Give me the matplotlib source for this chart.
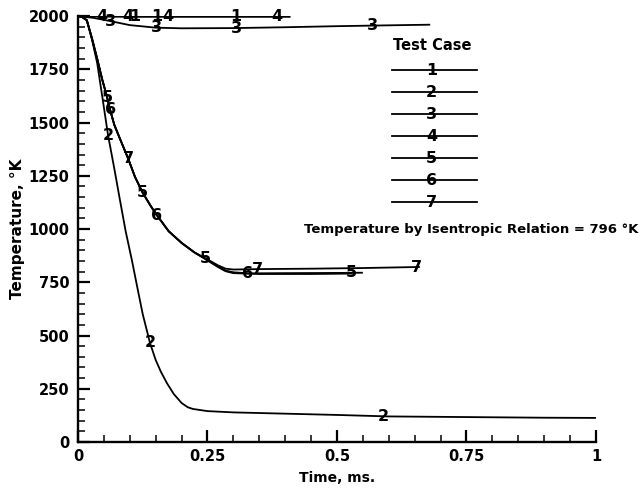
import numpy as np
import matplotlib.pyplot as plt
from matplotlib.ticker import MultipleLocator

# test case curves: time (ms) and temperature (K)
t1 = [0.0, 0.05, 0.1, 0.2, 0.3, 0.41]
T1 = [2000, 1999, 1998, 1998, 1998, 1998]
t4 = [0.0, 0.05, 0.1, 0.2, 0.3, 0.41]
T4 = [2000, 1999, 1998, 1998, 1998, 1998]
t3 = [0.0, 0.03, 0.06, 0.1, 0.15, 0.2, 0.3, 0.4, 0.5, 0.6, 0.68]
T3 = [2000, 1992, 1978, 1958, 1946, 1943, 1944, 1948, 1953, 1957, 1960]
t2 = [0.0, 0.008, 0.017, 0.027, 0.037, 0.047, 0.058, 0.07, 0.081, 0.092, 0.104,
      0.115, 0.125, 0.139, 0.15, 0.16, 0.172, 0.185, 0.2, 0.212, 0.222, 0.25,
      0.3, 0.4, 0.5, 0.6, 0.7, 0.8, 0.9, 1.0]
T2 = [2000, 1996, 1981, 1890, 1780, 1620, 1441, 1285, 1136, 990, 854,
      720, 600, 465, 385, 330, 275, 225, 183, 163, 155, 145,
      139, 133, 127, 120, 118, 116, 114, 113]
t5 = [0.0, 0.008, 0.017, 0.027, 0.037, 0.047, 0.055, 0.062, 0.07, 0.08, 0.097,
      0.11, 0.125, 0.14, 0.152, 0.175, 0.2, 0.225, 0.245, 0.27, 0.285, 0.3,
      0.33, 0.4, 0.5, 0.55]
T5 = [2000, 1996, 1981, 1895, 1800, 1700, 1630, 1560, 1490, 1430, 1330,
      1245, 1170, 1110, 1066, 990, 935, 890, 862, 825, 805, 797,
      792, 793, 794, 795]
t6 = [0.0, 0.008, 0.017, 0.027, 0.037, 0.047, 0.055, 0.062, 0.07, 0.08, 0.097,
      0.11, 0.125, 0.14, 0.152, 0.175, 0.2, 0.225, 0.245, 0.27, 0.285, 0.3,
      0.35, 0.45, 0.53]
T6 = [2000, 1996, 1981, 1895, 1800, 1700, 1630, 1560, 1490, 1430, 1330,
      1245, 1170, 1110, 1066, 990, 935, 890, 860, 822, 802, 793,
      789, 789, 791]
t7 = [0.0, 0.008, 0.017, 0.027, 0.037, 0.047, 0.055, 0.062, 0.07, 0.08, 0.097,
      0.11, 0.125, 0.14, 0.152, 0.175, 0.2, 0.225, 0.245, 0.27, 0.285, 0.3,
      0.35, 0.45, 0.55, 0.66]
T7 = [2000, 1996, 1981, 1895, 1800, 1700, 1630, 1560, 1490, 1430, 1330,
      1245, 1170, 1110, 1066, 990, 935, 890, 864, 830, 814, 810,
      812, 814, 817, 822]

# where the case numbers sit along each curve
marks1 = [0.11, 0.152, 0.305]
marks2 = [0.058, 0.139, 0.589]
marks3 = [0.062, 0.152, 0.305, 0.568]
marks4 = [0.046, 0.096, 0.174, 0.384]
marks5 = [0.056, 0.125, 0.245, 0.527]
marks6 = [0.062, 0.152, 0.328]
marks7 = [0.097, 0.347, 0.654]

cases = [(t1, T1, marks1), (t2, T2, marks2), (t3, T3, marks3), (t4, T4, marks4),
         (t5, T5, marks5), (t6, T6, marks6), (t7, T7, marks7)]

fig = plt.figure(figsize=(6.41, 4.90), dpi=100)
ax = fig.add_axes([0.1217, 0.098, 0.808, 0.869])

for n, (tt, TT, mk) in enumerate(cases, start=1):
    ax.plot(tt, TT, color='black', lw=1.3, solid_capstyle='butt')
    for m in mk:
        ax.text(m, np.interp(m, tt, TT), str(n), ha='center', va='center',
                fontsize=11.5, fontweight='bold')

# legend drawn by hand, Tecplot style
leg_y0 = 0.873
leg_dy = 0.0517
ax.text(0.683, 0.932, 'Test Case', transform=ax.transAxes, ha='center',
        va='center', fontsize=10.5, fontweight='bold')
for i in range(7):
    y = leg_y0 - i * leg_dy
    ax.plot([0.606, 0.770], [y, y], transform=ax.transAxes, color='black',
            lw=1.3)
    ax.text(0.683, y, str(i + 1), transform=ax.transAxes, ha='center',
            va='center', fontsize=11.5, fontweight='bold')
ax.text(0.759, 0.498, 'Temperature by Isentropic Relation = 796 °K',
        transform=ax.transAxes, ha='center', va='center', fontsize=9.5,
        fontweight='bold', clip_on=False)

ax.set_xlim(0, 1)
ax.set_ylim(0, 2000)
ax.set_xticks([0, 0.25, 0.5, 0.75, 1])
ax.set_xticklabels(['0', '0.25', '0.5', '0.75', '1'])
ax.set_yticks([0, 250, 500, 750, 1000, 1250, 1500, 1750, 2000])
ax.xaxis.set_minor_locator(MultipleLocator(0.05))
ax.yaxis.set_minor_locator(MultipleLocator(50))
ax.tick_params(which='major', direction='in', length=8.5, width=1.6,
               labelsize=10.5)
ax.tick_params(axis='y', which='major', pad=6)
ax.tick_params(axis='x', which='major', pad=5)
ax.tick_params(which='minor', direction='in', length=5, width=1.1)
for lab in ax.get_xticklabels() + ax.get_yticklabels():
    lab.set_fontweight('bold')

ax.spines['top'].set_visible(False)
ax.spines['right'].set_visible(False)
ax.spines['left'].set_linewidth(1.7)
ax.spines['bottom'].set_linewidth(1.7)

ax.set_xlabel('Time, ms.', fontsize=10, fontweight='bold', labelpad=5)
ax.set_ylabel('Temperature, °K', fontsize=11, fontweight='bold', labelpad=3)

fig.savefig('out.png', dpi=100)
